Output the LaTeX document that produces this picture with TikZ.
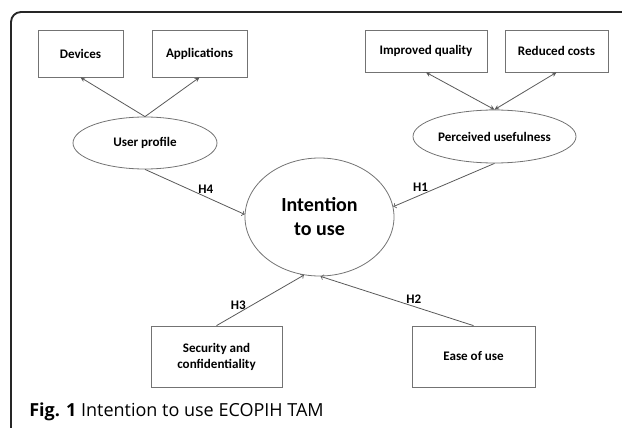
\documentclass[tikz,border=0pt]{standalone}
\usepackage{fontspec}
\setmainfont{Carlito}
\newfontfamily\capfont{Open Sans}
\usepackage{tikz}
\usetikzlibrary{shapes.geometric}
\tikzset{>=stealth}

\begin{document}
\begin{tikzpicture}[x=0.75pt,y=-0.75pt,
    box/.style={draw=black!55,line width=0.55pt,inner sep=0pt,align=center,
      font=\fontsize{9.8}{12}\selectfont\bfseries},
    oval/.style={ellipse,draw=black!55,line width=0.6pt,inner sep=0pt,align=center,
      font=\fontsize{9.8}{12}\selectfont\bfseries},
    link/.style={black!65,line width=0.6pt},
    hyp/.style={text=black,font=\fontsize{9.8}{12}\selectfont\bfseries,inner sep=2pt}]
  \useasboundingbox (0,0) rectangle (622,428);
  \draw[line width=1.4pt,black!85,rounded corners=7.5pt] (622,12) -- (11,12) -- (11,428);
  % top boxes
  \node[box,minimum width=63.75pt,minimum height=35.25pt] (dev) at (80.5,53.5) {Devices};
  \node[box,minimum width=71.25pt,minimum height=35.25pt] (app) at (199.5,53.5) {Applications};
  \node[box,minimum width=91.5pt,minimum height=31.5pt] (qual) at (426,51) {Improved quality};
  \node[box,minimum width=77.25pt,minimum height=31.5pt] (cost) at (556.5,51) {Reduced costs};
  % constructs
  \node[oval,minimum width=108pt,minimum height=39pt] (prof) at (145,143) {User profile};
  \node[oval,minimum width=122.25pt,minimum height=39.75pt] (useful) at (494.5,136.5) {Perceived usefulness};
  \node[oval,minimum width=111.75pt,minimum height=88.5pt,
    font=\fontsize{15}{18}\selectfont\bfseries] (intent) at (319.5,217) {Intention\\to use};
  \node[box,minimum width=98.25pt,minimum height=45.75pt] (sec) at (216.5,356.5) {Security and\\confidentiality};
  \node[box,minimum width=92.25pt,minimum height=45.75pt] (ease) at (473.5,356.5) {Ease of use};
  % arrows
  \draw[link,->] (prof.north) -- (dev.south);
  \draw[link,->] (prof.north) -- (app.south);
  \draw[link,<->] (useful.north) -- (qual.south);
  \draw[link,<->] (useful.north) -- (cost.south);
  \draw[link,-to] (prof.south) -- node[hyp,pos=0.61,above] {H4} (intent.178);
  \draw[link,-to] (useful.south) -- node[hyp,pos=0.73,above] {H1} (intent.8);
  \draw[link,-to] (sec.north) -- node[hyp,pos=0.25,above] {H3} (intent.255);
  \draw[link,-to] (ease.north) -- node[hyp,pos=0.39,above] {H2} (intent.271);
  % caption
  \node[anchor=base west,inner sep=0pt,font=\capfont\fontsize{13.5}{16}\selectfont] (cap)
    at (29,416) {\textbf{Fig. 1} Intention to use ECOPIH TAM};
\end{tikzpicture}
\end{document}
